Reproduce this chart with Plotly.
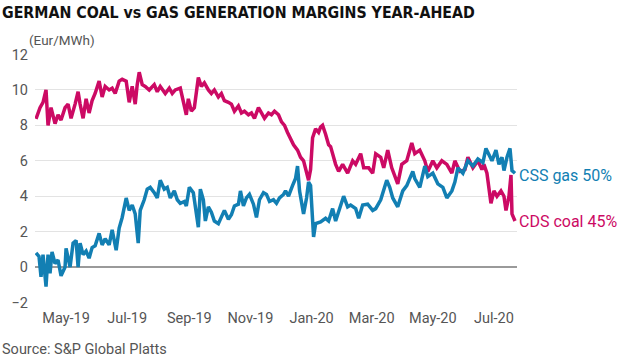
import pandas as pd
import plotly.graph_objects as go

start = pd.Timestamp("2019-04-01")

# CDS coal 45% (days since 2019-04-01, Eur/MWh)
cds_day = [0, 4, 7, 10, 12, 15, 19, 22, 25, 29, 32, 35, 39, 42, 44, 47, 50, 53, 56, 59,
           63, 66, 69, 73, 76, 79, 83, 86, 90, 93, 96, 99, 101, 103, 106, 109, 113, 118, 121, 124,
           129, 133, 136, 139, 144, 148, 150, 152, 155, 158, 162, 165, 168, 172, 175, 178, 182, 185, 188, 192,
           195, 198, 202, 205, 208, 212, 215, 218, 222, 225, 228, 232, 235, 238, 242, 245, 248, 251, 254, 257,
           261, 264, 267, 270, 272, 274, 276, 279, 282, 284, 286, 289, 292, 294, 297, 299, 302, 306, 309, 311,
           316, 319, 324, 327, 332, 336, 339, 344, 347, 351, 355, 358, 361, 365, 370, 375, 378, 383, 388, 391,
           396, 400, 405, 410, 415, 418, 423, 428, 431, 436, 441, 445, 447, 450, 452, 454, 457, 460, 464, 467,
           469, 472, 474, 475, 478]
cds_val = [8.37, 9.0, 9.3, 10.0, 8.0, 9.0, 8.1, 8.6, 8.3, 9.0, 9.2, 8.4, 9.2, 9.9, 9.2, 8.4, 9.5, 8.7, 9.4, 9.8,
           10.5, 9.6, 10.2, 10.0, 10.1, 9.8, 10.5, 10.6, 10.5, 9.3, 10.2, 9.2, 10.3, 11.0, 10.3, 10.2, 10.0, 10.3, 9.9, 10.2,
           9.8, 10.1, 9.8, 10.0, 10.1, 9.2, 8.6, 9.5, 8.8, 9.0, 10.7, 10.2, 10.4, 10.0, 9.8, 10.0, 9.6, 9.8, 9.4, 9.3,
           9.2, 8.8, 9.1, 8.7, 8.8, 8.6, 8.7, 8.4, 9.0, 8.7, 8.4, 8.7, 8.6, 8.8, 8.6, 8.2, 8.0, 7.6, 7.2, 6.9,
           6.6, 6.2, 6.0, 5.4, 4.9, 5.5, 7.3, 7.8, 7.6, 7.9, 8.0, 7.5, 6.9, 6.8, 6.2, 5.8, 5.4, 5.8, 5.5, 5.3,
           6.0, 5.8, 6.4, 5.6, 5.6, 5.3, 6.4, 6.2, 5.6, 6.6, 5.6, 5.1, 4.7, 5.8, 6.0, 7.0, 6.4, 6.6, 6.0, 5.4,
           6.0, 5.6, 6.0, 5.8, 5.3, 6.0, 5.4, 5.5, 6.2, 5.6, 6.0, 5.5, 5.8, 5.3, 4.6, 3.6, 4.3, 4.0, 4.3, 4.0,
           3.2, 4.0, 5.2, 3.0, 2.6]

# CSS gas 50%
css_day = [0, 3, 5, 7, 10, 12, 14, 16, 19, 22, 25, 29, 30, 34, 37, 40, 42, 44, 47, 50,
           53, 56, 59, 63, 66, 69, 73, 76, 80, 83, 86, 90, 93, 96, 99, 102, 104, 108, 111, 114,
           118, 121, 124, 128, 131, 134, 138, 141, 144, 148, 150, 153, 157, 159, 162, 164, 167, 169, 172, 175,
           178, 182, 185, 188, 192, 195, 198, 202, 204, 207, 210, 213, 217, 220, 223, 227, 230, 233, 237, 240,
           243, 247, 249, 252, 256, 259, 261, 263, 267, 270, 272, 274, 277, 279, 284, 289, 292, 296, 299, 302,
           307, 311, 314, 319, 322, 326, 331, 336, 339, 344, 347, 350, 353, 356, 361, 366, 370, 376, 378, 383,
           388, 391, 396, 401, 406, 410, 415, 418, 421, 426, 431, 436, 441, 446, 449, 452, 455, 459, 462, 465,
           467, 470, 473, 475, 478]
css_val = [0.8, 0.6, -0.55, 0.7, -1.1, 0.7, -0.35, 0.85, 0.2, 0.4, -0.5, 0.0, 1.05, 0.0, 1.35, 1.5, 0.0, 1.35, 0.7, 0.9,
           0.5, 1.1, 1.2, 1.9, 1.25, 1.6, 1.25, 2.1, 0.95, 2.2, 2.8, 3.9, 3.2, 3.5, 3.0, 1.35, 3.2, 3.8, 4.4, 4.5,
           4.2, 3.9, 4.9, 4.4, 4.5, 3.9, 4.3, 3.8, 3.6, 3.7, 3.45, 4.5, 4.2, 3.45, 2.25, 4.4, 3.8, 2.6, 3.4, 3.1,
           2.6, 2.45, 2.8, 3.2, 2.7, 2.95, 3.45, 3.55, 4.3, 3.45, 3.9, 4.1, 3.55, 2.8, 3.8, 4.2, 4.1, 3.7, 3.8, 3.6,
           3.9, 4.1, 4.3, 4.0, 4.6, 5.0, 5.7, 4.3, 3.0, 3.9, 4.8, 4.6, 1.7, 2.45, 2.55, 2.75, 2.6, 3.3, 2.6, 3.1,
           4.0, 3.4, 3.5, 3.3, 2.75, 3.5, 3.55, 3.2, 3.3, 3.8, 4.3, 4.9, 4.5, 3.9, 3.4, 4.3, 4.6, 5.4, 5.0, 4.5,
           5.7, 5.1, 5.3, 4.7, 4.5, 3.9, 4.3, 4.8, 5.6, 5.3, 6.0, 5.7, 6.1, 5.9, 6.7, 6.4, 6.0, 6.6, 5.8, 6.2,
           5.45, 6.2, 6.7, 5.45, 5.3]

series_names = ["CSS gas 50%", "CDS coal 45%"]
title_text = "GERMAN COAL vs GAS GENERATION MARGINS YEAR-AHEAD"
unit_text = "(Eur/MWh)"
source_text = "Source: S&P Global Platts"
y_ticks = [-2, 0, 2, 4, 6, 8, 10, 12]

BLUE = "#127fb3"
MAGENTA = "#cc0a64"
GREY = "#555555"
FONT = "Roboto, Arial, sans-serif"

W, H = 620, 359
ML, MR, MT, MB = 33, 103, 54, 56
PW, PH = W - ML - MR, H - MT - MB

cds_dates = start + pd.to_timedelta(cds_day, unit="D")
css_dates = start + pd.to_timedelta(css_day, unit="D")

fig = go.Figure()
fig.add_trace(go.Scatter(x=cds_dates, y=cds_val, mode="lines", name=series_names[1],
                         line=dict(color=MAGENTA, width=3.5)))
fig.add_trace(go.Scatter(x=css_dates, y=css_val, mode="lines", name=series_names[0],
                         line=dict(color=BLUE, width=3.5)))

fig.add_annotation(x=css_dates[-1], y=css_val[-1], text=series_names[0], showarrow=False,
                   xanchor="left", yanchor="middle", xshift=2, yshift=-2,
                   font=dict(family=FONT, size=16, color=BLUE))
fig.add_annotation(x=cds_dates[-1], y=cds_val[-1], text=series_names[1], showarrow=False,
                   xanchor="left", yanchor="middle", xshift=2,
                   font=dict(family=FONT, size=16, color=MAGENTA))

def px_x(x):
    return (x - ML) / PW

def px_y(y):
    return (H - MB - y) / PH

fig.add_annotation(xref="paper", yref="paper", x=px_x(-2), y=px_y(13), text="<b>" + title_text + "</b>",
                   showarrow=False, xanchor="left", yanchor="middle",
                   font=dict(family="DejaVu Sans Condensed, Roboto, sans-serif", size=15.8, color="#111111"))
fig.add_annotation(xref="paper", yref="paper", x=px_x(25), y=px_y(40), text=unit_text,
                   showarrow=False, xanchor="left", yanchor="middle",
                   font=dict(family=FONT, size=13.5, color=GREY))
fig.add_annotation(xref="paper", yref="paper", x=px_x(-2), y=px_y(349), text=source_text,
                   showarrow=False, xanchor="left", yanchor="middle",
                   font=dict(family=FONT, size=14.5, color=GREY))

fig.update_layout(
    width=W, height=H,
    margin=dict(l=ML, r=MR, t=MT, b=MB),
    paper_bgcolor="white", plot_bgcolor="white",
    showlegend=False,
    font=dict(family=FONT, color=GREY, size=13),
)
fig.update_xaxes(
    type="date",
    range=[start - pd.Timedelta(days=1), start + pd.Timedelta(days=480)],
    tick0="2019-05-01", dtick="M2", tickformat="%b-%y",
    showgrid=False, zeroline=False, showline=False, ticks="", ticklabelstandoff=4,
    tickfont=dict(family=FONT, size=14.5, color=GREY),
)
fig.update_yaxes(
    range=[-2.03, 12.03], tickvals=y_ticks,
    showgrid=True, gridcolor="#e3e3e3", gridwidth=1,
    zeroline=True, zerolinecolor="#9a9a9a", zerolinewidth=1.5,
    showline=False, ticks="", ticklabelstandoff=6,
    tickfont=dict(family=FONT, size=14.5, color=GREY),
)

fig.write_html("out.html", config={"displayModeBar": False},
               post_script="document.body.style.margin='0';document.body.style.overflow='hidden';")
